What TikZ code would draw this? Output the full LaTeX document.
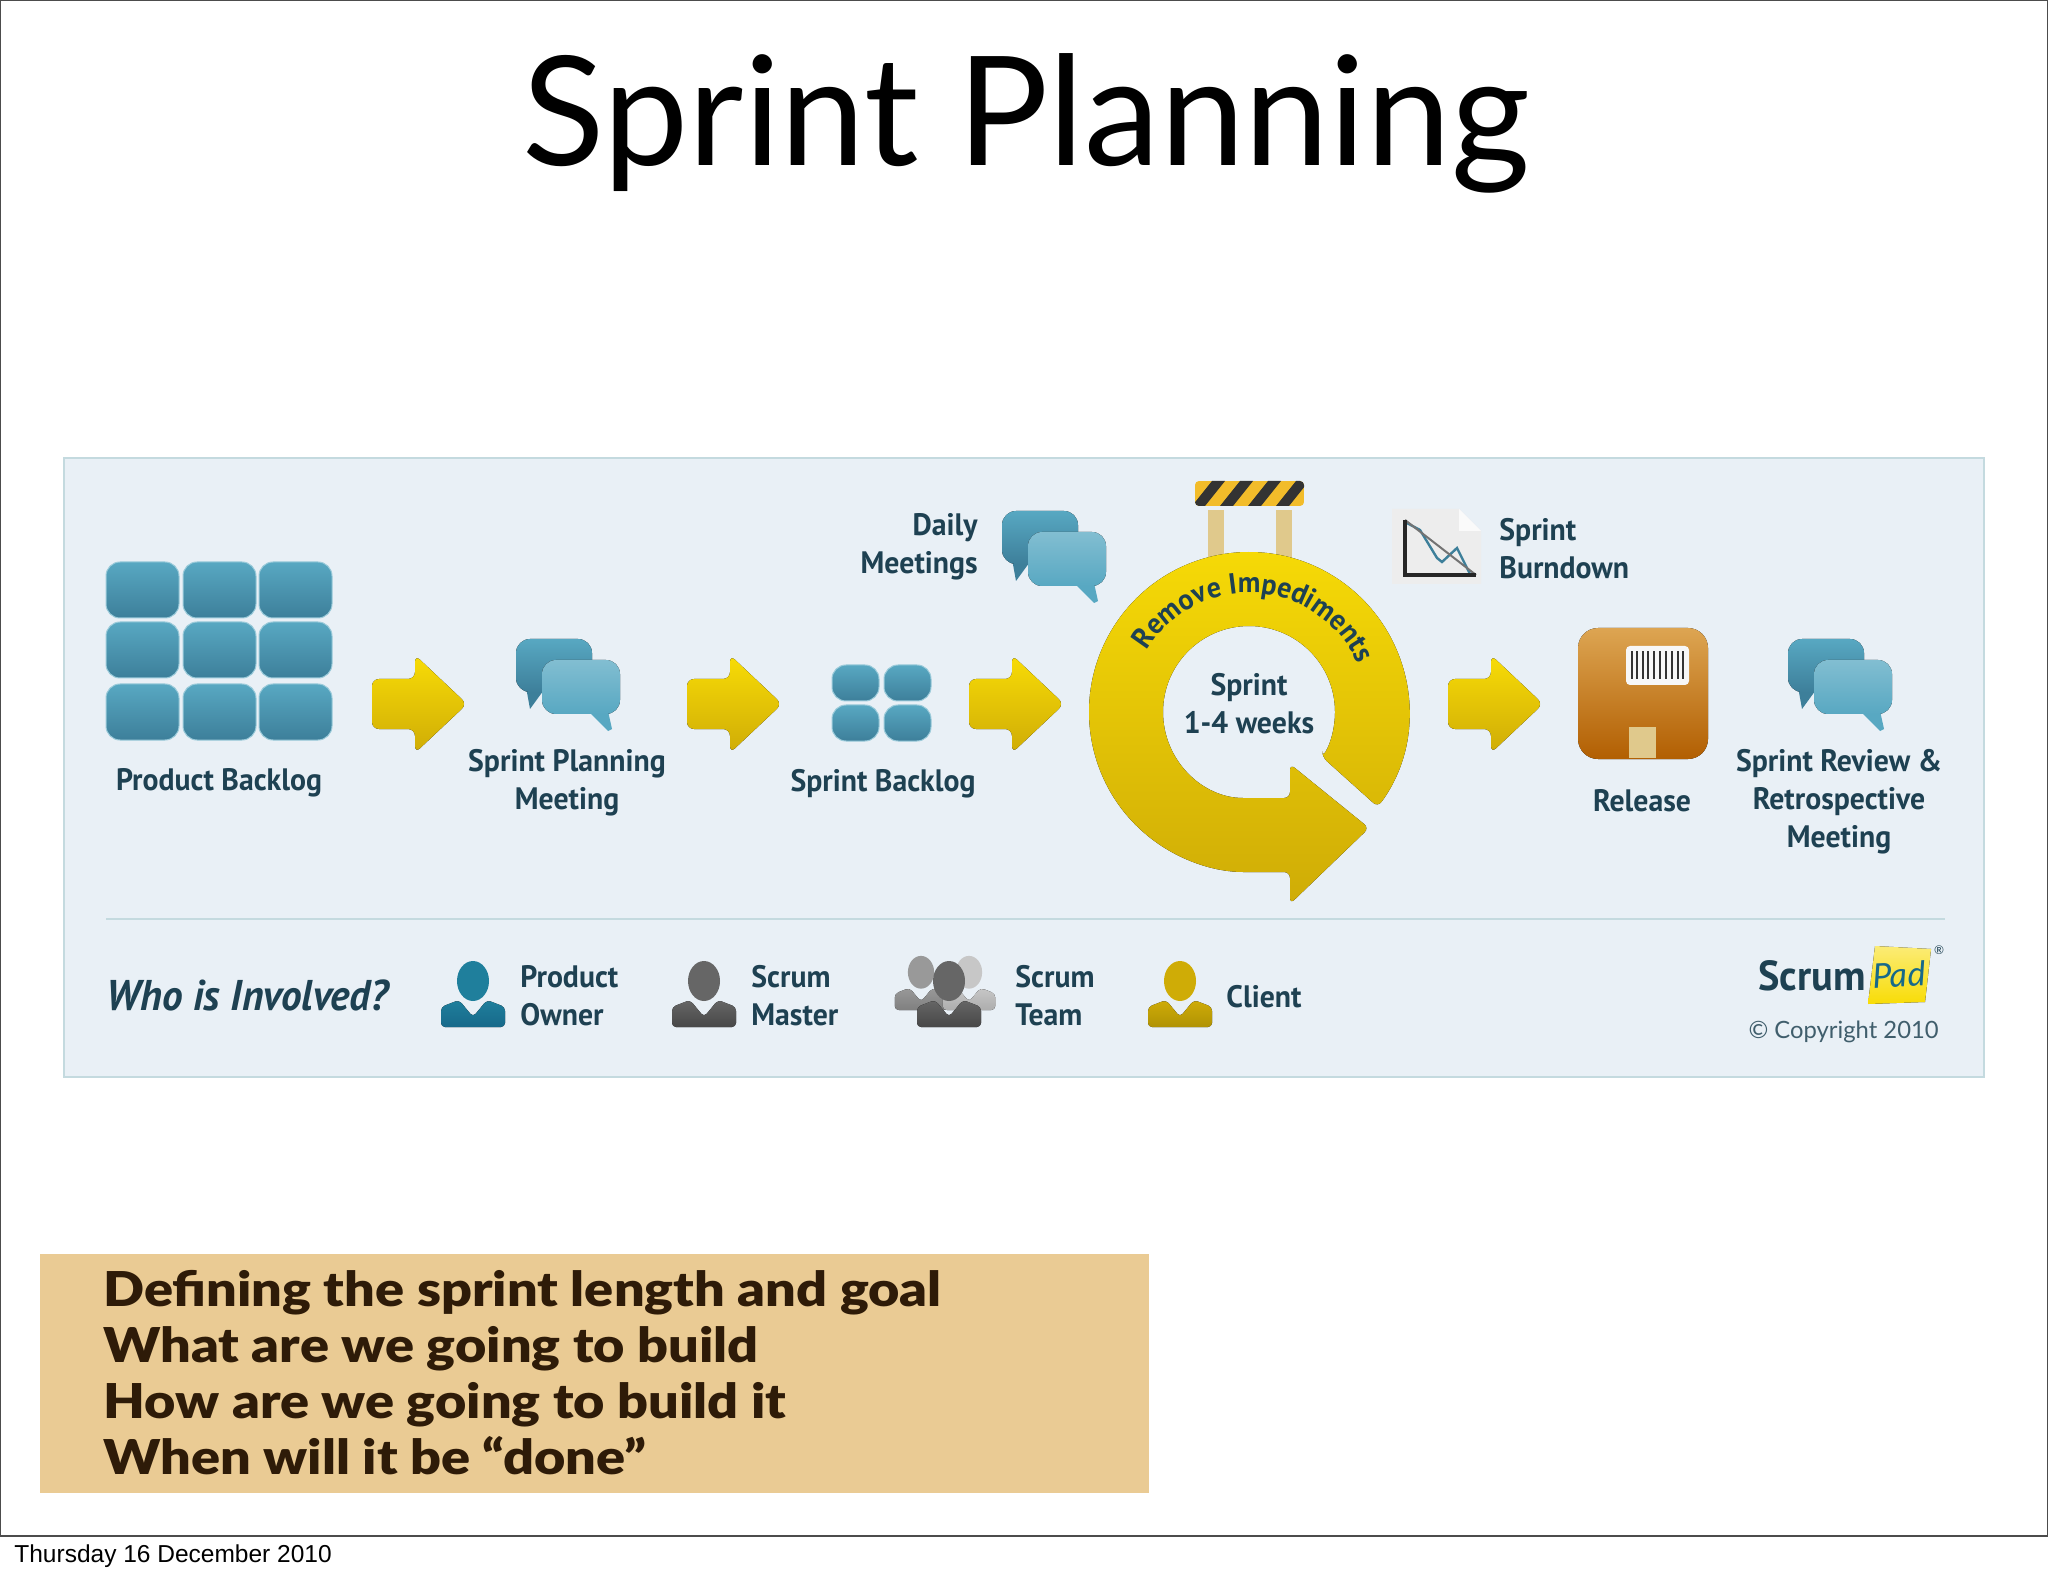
\documentclass[tikz,border=0pt]{standalone}
\usepackage{fontspec}
\usetikzlibrary{decorations.text}
\setmainfont{Lato}
\newfontfamily\labelfont[FakeStretch=0.96]{PT Sans}
\newfontfamily\notefont[FakeStretch=1.125]{Lato Black}
\newfontfamily\footfont{Liberation Sans}
\definecolor{inktext}{HTML}{1E4152}
\definecolor{panelbg}{HTML}{E9F0F6}
\definecolor{panelrule}{HTML}{C4DADF}
\definecolor{tiletop}{HTML}{58A8C2}
\definecolor{tilebot}{HTML}{3D7F9A}
\definecolor{arrowtop}{HTML}{F8DC06}
\definecolor{arrowbot}{HTML}{CFAC06}
\definecolor{ownertop}{HTML}{1F7F9C}
\definecolor{ownerbot}{HTML}{17698A}
\definecolor{gatetop}{HTML}{E0C98C}
\definecolor{gatebar}{HTML}{F2BC2A}
\definecolor{boxtop}{HTML}{DDA552}
\definecolor{boxbot}{HTML}{B25F02}
\definecolor{notebg}{HTML}{EACB94}
\definecolor{noteink}{HTML}{2E1B08}
\tikzset{
    flowlabel/.style={font=\labelfont\bfseries\fontsize{15.5}{19}\selectfont, text=inktext, align=center, inner sep=0pt},
    leftlabel/.style={flowlabel, align=left, anchor=west},
    backlogcell/.style={top color=tiletop, bottom color=tilebot, draw=tiletop!60!white, line width=0.5pt},
    blockarrow/.style={top color=arrowtop, bottom color=arrowbot},
    pics/yarrow/.style={code={
        \fill[blockarrow, rounded corners=3.5pt] (0,-25) -- (43,-25) -- (43,-49) -- (95,0) -- (43,49) -- (43,25) -- (0,25) -- cycle;
    }},
    pics/chatbubble/.style={code={
        \fill[tilebot] (10,-48) -- (14,-70) -- (30,-48) -- cycle;
        \fill[top color=tiletop, bottom color=tilebot, rounded corners=7pt] (0,0) rectangle (76,-53);
        \fill[tiletop] (72,-72) -- (92,-92) -- (96,-90) -- (92,-72) -- cycle;
        \fill[top color=tiletop!75!white, bottom color=tiletop, rounded corners=7pt] (26,-21) rectangle (104,-75);
    }},
    pics/person/.style 2 args={code={
        \fill[top color=#1, bottom color=#2, rounded corners=2pt] (-32,0) -- (-32,20) -- (-14,27) -- (0,10) -- (14,27) -- (32,20) -- (32,0) -- cycle;
        \fill[#1] (0,46) ellipse [x radius=16, y radius=20];
    }},
}
\begin{document}
\begin{tikzpicture}[x=0.5pt, y=0.5pt]
    \useasboundingbox (0,0) rectangle (2048,1576);
    \fill[white] (0,0) rectangle (2048,1576);
    \draw[black!70, line width=0.6pt] (0,40) rectangle (2048,1576);

    \node (title) at (1026,1410) [anchor=base, inner sep=0pt, font=\fontsize{76}{90}\selectfont] {Sprint Planning};

    % main panel
    \fill[panelbg] (64,499) rectangle (1984,1118);
    \draw[panelrule, line width=1pt] (64,499) rectangle (1984,1118);
    \draw[panelrule, line width=0.7pt] (106,657) -- (1945,657);

    % backlog tiles
    \foreach \cx in {106,183,259} {
        \foreach \cy in {958,898,836} {
            \path[backlogcell, rounded corners=7pt] (\cx,\cy) rectangle +(73,56);
        }
    }
    \foreach \cx in {832,884} {
        \foreach \cy in {875,835} {
            \path[backlogcell, rounded corners=7pt] (\cx,\cy) rectangle +(47,36);
        }
    }

    \foreach \ax in {372,687,969,1448} {
        \pic at (\ax,872) {yarrow};
    }
    \pic at (516,937) {chatbubble};
    \pic at (1788,937) {chatbubble};
    \pic at (1002,1065) {chatbubble};

    % barrier
    \fill[gatetop] (1208,1000) rectangle (1224,1066);
    \fill[gatetop] (1276,1000) rectangle (1292,1066);
    \begin{scope}
        \clip[rounded corners=2pt] (1195,1070) rectangle (1304,1095);
        \fill[gatebar] (1195,1070) rectangle (1304,1095);
        \foreach \sx in {1192,1220,1248,1276} {
            \fill[black!80] (\sx,1070) -- (\sx+13,1070) -- (\sx+33,1095) -- (\sx+20,1095) -- cycle;
        }
    \end{scope}

    % sprint ring
    \coordinate (ringc) at (1249,864);
    \fill[blockarrow, rounded corners=3pt]
        ([shift={(-31.6:86)}]ringc) -- ([shift={(-36.4:160)}]ringc)
        arc[start angle=-36.4, end angle=270, radius=160]
        -- (1290,704) -- (1290,672) -- (1369,748) -- (1290,812) -- (1290,778) -- (1249,778)
        arc[start angle=270, end angle=-31.6, radius=86] -- cycle;
    \path[decorate, decoration={text along path, text align=center, text color=inktext,
        text={|\labelfont\bfseries\fontsize{14.6}{18}\selectfont|Remove Impediments}}]
        ([shift={(170:119)}]ringc) arc[start angle=170, end angle=3, radius=119];

    % burndown sheet
    \fill[black!7] (1392,992) -- (1481,992) -- (1481,1045) -- (1459,1067) -- (1392,1067) -- cycle;
    \fill[black!2] (1459,1067) -- (1459,1045) -- (1481,1045) -- cycle;
    \draw[tilebot, line width=1.2pt] (1405,1054) -- (1420,1046) -- (1437,1018) -- (1442,1014) -- (1457,1028) -- (1470,1002);
    \draw[black!55, line width=1pt] (1405,1056) -- (1476,1001);
    \draw[black!85, line width=1.6pt] (1405,1056) -- (1405,1001) -- (1476,1001);

    % release box
    \fill[top color=boxtop, bottom color=boxbot, rounded corners=10pt] (1578,817) rectangle (1708,948);
    \fill[black!3, rounded corners=2pt] (1626,891) rectangle (1689,930);
    \foreach \bx in {1632,1637,1643,1648,1654,1660,1666,1672,1678,1683} {
        \draw[black!80, line width=0.8pt] (\bx,897) -- (\bx,925);
    }
    \fill[gatetop] (1629,818) rectangle (1656,849);

    % labels
    \node[flowlabel] (backloglabel) at (219,793) {Product Backlog};
    \node[flowlabel] (planninglabel) at (567,793) {Sprint Planning\\Meeting};
    \node[flowlabel] (sprintbackloglabel) at (883,792) {Sprint Backlog};
    \node[flowlabel, align=right, anchor=east] (dailylabel) at (978,1029) {Daily\\Meetings};
    \node[leftlabel] (burndownlabel) at (1499,1027) {Sprint\\Burndown};
    \node[flowlabel] (sprintlabel) at (1249,872) {Sprint\\1-4 weeks};
    \node[flowlabel] (releaselabel) at (1642,775) {Release};
    \node[flowlabel] (reviewlabel) at (1839,774) {Sprint Review \&\\Retrospective\\Meeting};

    % who is involved
    \node[flowlabel, anchor=west, font=\labelfont\bfseries\itshape\fontsize{21.5}{24}\selectfont] (involvedlabel) at (106,581) {Who is Involved?};
    \pic at (473,549) {person={ownertop}{ownerbot}};
    \pic at (704,549) {person={black!60}{black!72}};
    \pic[scale=.82] at (921,566) {person={black!40}{black!50}};
    \pic[scale=.82] at (969,566) {person={black!22}{black!32}};
    \pic at (949,549) {person={black!60}{black!72}};
    \pic at (1180,549) {person={arrowbot}{arrowbot!85!black}};
    \node[leftlabel] (ownerlabel) at (520,580) {Product\\Owner};
    \node[leftlabel] (masterlabel) at (751,580) {Scrum\\Master};
    \node[leftlabel] (teamlabel) at (1015,580) {Scrum\\Team};
    \node[leftlabel] (clientlabel) at (1226,579) {Client};

    % logo
    \node[flowlabel, anchor=base west, font=\labelfont\bfseries\fontsize{21}{24}\selectfont] (logoscrum) at (1758,586) {Scrum};
    \fill[top color=arrowtop!55!white, bottom color=arrowtop] (1875,630) -- (1931,627) -- (1925,574) -- (1868,572) -- cycle;
    \node[rotate=3, text=ownerbot, inner sep=0pt, font=\itshape\fontsize{17}{20}\selectfont] (logopad) at (1899,601) {Pad};
    \node[text=inktext, inner sep=0pt, font=\fontsize{6}{7}\selectfont] (logoreg) at (1939,626) {®};
    \node[anchor=east, inner sep=0pt, text=inktext!85!white, font=\fontsize{11.9}{15}\selectfont] (copyright) at (1939,544) {© Copyright 2010};

    % note box
    \fill[notebg] (40,83) rectangle (1149,322);
    \foreach \notetext [count=\ni] in {Defining the sprint length and goal, What are we going to build, How are we going to build it, When will it be “done”} {
        \node[anchor=base west, inner sep=0pt, text=noteink, font=\notefont\fontsize{24}{28}\selectfont] (note\ni) at (103,326-56*\ni) {\notetext};
    }

    \node[anchor=base west, inner sep=0pt, font=\footfont\fontsize{12.25}{14}\selectfont] (footdate) at (14,14) {Thursday 16 December 2010};
\end{tikzpicture}
\end{document}
